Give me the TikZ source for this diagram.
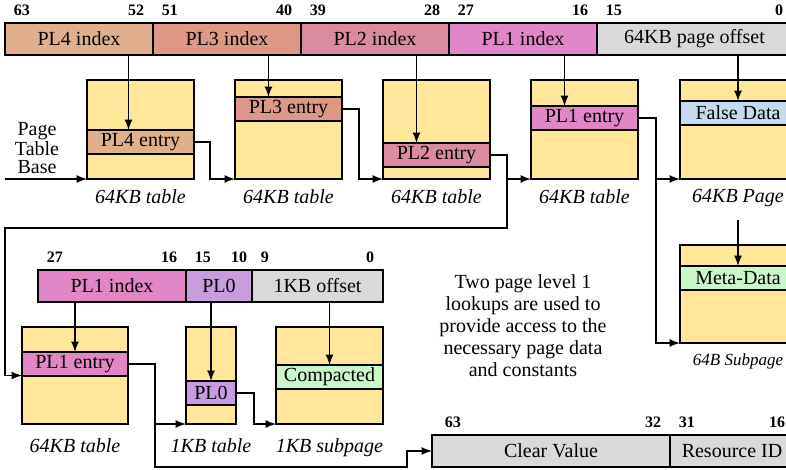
\documentclass[tikz,border=0pt]{standalone}
\usepackage{fontspec}
\setmainfont{Liberation Serif}
\usetikzlibrary{arrows,positioning}

\definecolor{pl4col}{HTML}{E0B08C}
\definecolor{pl3col}{HTML}{DF9786}
\definecolor{pl2col}{HTML}{DB8BA0}
\definecolor{pl1col}{HTML}{E286C8}
\definecolor{pl0col}{HTML}{C99CE0}
\definecolor{offcol}{HTML}{D9D9D9}
\definecolor{tabcol}{HTML}{FFE699}
\definecolor{falsecol}{HTML}{C6D9F1}
\definecolor{metacol}{HTML}{C8F7C8}

\begin{document}
\begin{tikzpicture}[x=0.5pt,y=-0.5pt,->,>=latex,thick]
  \tikzstyle{field}=[draw,minimum height=16pt,inner sep=0pt,outer sep=0pt]
  \tikzstyle{tablebox}=[draw,fill=tabcol,minimum width=53.5pt,minimum height=49.5pt,inner sep=0pt,outer sep=0pt]
  \tikzstyle{entry}=[draw,minimum width=53.5pt,minimum height=12pt,inner sep=0pt,outer sep=0pt]
  \tikzstyle{bits}=[font=\fontsize{8}{9}\selectfont\bfseries,inner sep=0pt]
  \tikzstyle{tabcap}=[font=\itshape]
\clip (0,0) rectangle (786,470);
% virtual address, top row
\node[field,fill=pl4col,minimum width=74pt] (pl4i) at (79,39) {PL4 index};
\node[field,fill=pl3col,minimum width=74pt] (pl3i) [right=0pt of pl4i] {PL3 index};
\node[field,fill=pl2col,minimum width=74pt] (pl2i) [right=0pt of pl3i] {PL2 index};
\node[field,fill=pl1col,minimum width=74pt] (pl1i) [right=0pt of pl2i] {PL1 index};
\node[field,fill=offcol,minimum width=97.5pt] (offs) [right=0pt of pl1i] {64KB page offset};
\node[bits,anchor=south west] (b63) at ([xshift=4pt,yshift=3.5pt]pl4i.north west) {63};
\node[bits,anchor=south east] (b52) at ([xshift=-4pt,yshift=3.5pt]pl4i.north east) {52};
\node[bits,anchor=south west] (b51) at ([xshift=4pt,yshift=3.5pt]pl3i.north west) {51};
\node[bits,anchor=south east] (b40) at ([xshift=-4pt,yshift=3.5pt]pl3i.north east) {40};
\node[bits,anchor=south west] (b39) at ([xshift=4pt,yshift=3.5pt]pl2i.north west) {39};
\node[bits,anchor=south east] (b28) at ([xshift=-4pt,yshift=3.5pt]pl2i.north east) {28};
\node[bits,anchor=south west] (b27) at ([xshift=4pt,yshift=3.5pt]pl1i.north west) {27};
\node[bits,anchor=south east] (b16) at ([xshift=-4pt,yshift=3.5pt]pl1i.north east) {16};
\node[bits,anchor=south west] (b15) at ([xshift=4pt,yshift=3.5pt]offs.north west) {15};
\node[bits,anchor=south east] (b0) at ([xshift=-4pt,yshift=3.5pt]offs.north east) {0};

% tables, top row
\node[tablebox] (t1) at (140.5,129.5) {};
\node[entry,fill=pl4col] (pl4e) at (140.5,142) {PL4 entry};
\node[tablebox] (t2) at (288.5,129.5) {};
\node[entry,fill=pl3col] (pl3e) at (288.5,109) {PL3 entry};
\node[tablebox] (t3) at (436.5,129.5) {};
\node[entry,fill=pl2col] (pl2e) at (436.5,155) {PL2 entry};
\node[tablebox] (t4) at (584.5,129.5) {};
\node[entry,fill=pl1col] (pl1e) at (584.5,118) {PL1 entry};
\node[tablebox,minimum width=58pt] (t5) at (738,129.5) {};
\node[entry,fill=falsecol,minimum width=58pt] (fdat) at (738,113) {False Data};
\node[tabcap] (c1) [below=1.5pt of t1] {64KB table};
\node[tabcap] (c2) [below=1.5pt of t2] {64KB table};
\node[tabcap] (c3) [below=1.5pt of t3] {64KB table};
\node[tabcap] (c4) [below=1.5pt of t4] {64KB table};
\node[tabcap] (c5) [below=1.5pt of t5] {64KB Page};

\node[tablebox,minimum width=58pt,minimum height=49pt] (t6) at (738,294) {};
\node[entry,fill=metacol,minimum width=58pt] (meta) at (738,278) {Meta-Data};
\node[tabcap,font=\fontsize{8.5}{10}\selectfont\itshape] (c6) [below=1.5pt of t6] {64B Subpage};

\node[align=center,font=\fontsize{10}{9}\selectfont] (ptbl) at (37,148) {Page\\Table\\Base};
\coordinate (ptb) at (5,179);
\coordinate (loop) at (5,228);
\coordinate (mdtop) at (738,220);

% second address, lower row
\node[field,fill=pl1col,minimum width=74pt] (pl1j) at (112,286) {PL1 index};
\node[field,fill=pl0col,minimum width=33pt] (pl0i) [right=0pt of pl1j] {PL0};
\node[field,fill=offcol,minimum width=65.5pt] (kbo) [right=0pt of pl0i] {1KB offset};
\node[bits,anchor=south west] (d27) at ([xshift=4pt,yshift=3.5pt]pl1j.north west) {27};
\node[bits,anchor=south east] (d16) at ([xshift=-4pt,yshift=3.5pt]pl1j.north east) {16};
\node[bits,anchor=south west] (d15) at ([xshift=4pt,yshift=3.5pt]pl0i.north west) {15};
\node[bits,anchor=south east] (d10) at ([xshift=-2pt,yshift=3.5pt]pl0i.north east) {10};
\node[bits,anchor=south west] (d9) at ([xshift=4pt,yshift=3.5pt]kbo.north west) {9};
\node[bits,anchor=south east] (d0) at ([xshift=-4pt,yshift=3.5pt]kbo.north east) {0};

\node[tablebox,minimum width=53pt,minimum height=48.5pt] (tA) at (75,375.5) {};
\node[entry,fill=pl1col,minimum width=53pt] (pl1f) at (75,364) {PL1 entry};
\node[tablebox,minimum width=25pt,minimum height=48.5pt] (tB) at (211,375.5) {};
\node[entry,fill=pl0col,minimum width=25pt] (pl0e) at (211,393) {PL0};
\node[tablebox,minimum height=48.5pt] (tC) at (329.5,375.5) {};
\node[entry,fill=metacol] (cpe) at (329.5,377) {Compacted};
\node[tabcap] (cA) [below=3.5pt of tA] {64KB table};
\node[tabcap] (cB) [below=3.5pt of tB] {1KB table};
\node[tabcap] (cC) [below=3.5pt of tC] {1KB subpage};

\node[align=center,font=\fontsize{10}{11}\selectfont] (note) at (523,326)
  {Two page level 1\\lookups are used to\\provide access to the\\necessary page data\\and constants};

% constants
\node[field,fill=offcol,minimum width=119pt] (cv) at (551,451) {Clear Value};
\node[field,fill=offcol,minimum width=62pt] (rid) [right=0pt of cv] {Resource ID};
\node[bits,anchor=south west] (e63) at ([xshift=6pt,yshift=3.5pt]cv.north west) {63};
\node[bits,anchor=south east] (e32) at ([xshift=-4pt,yshift=3.5pt]cv.north east) {32};
\node[bits,anchor=south west] (e31) at ([xshift=4pt,yshift=3.5pt]rid.north west) {31};
\node[bits,anchor=south east] (e16) at ([xshift=-4pt,yshift=3.5pt]rid.north east) {16};
\coordinate (jog) at (407,467);

% index arrows
\draw ([xshift=-6pt]pl4e.north |- pl4i.south) -- ([xshift=-6pt]pl4e.north);
\draw ([xshift=-10pt]pl3e.north |- pl3i.south) -- ([xshift=-10pt]pl3e.north);
\draw ([xshift=-10pt]pl2e.north |- pl2i.south) -- ([xshift=-10pt]pl2e.north);
\draw ([xshift=-10pt]pl1e.north |- pl1i.south) -- ([xshift=-10pt]pl1e.north);
\draw (fdat.north |- offs.south) -- (fdat.north);
\draw (mdtop) -- (meta.north);
\draw (pl1f.north |- pl1j.south) -- (pl1f.north);
\draw (pl0e.north |- pl0i.south) -- (pl0e.north);
\draw (cpe.north |- kbo.south) -- (cpe.north);

% walk
\draw (ptb) -- (t1.south west);
\draw (pl4e.east) -- ++(16,0) |- (t2.south west);
\draw (pl3e.east) -- ++(17,0) |- (t3.south west);
\draw (pl2e.east) -- ++(17,0) |- (t4.south west);
\draw (pl2e.east) -- ++(17,0) |- (loop) |- (tA.west);
\draw (pl1e.east) -- ++(18,0) |- (t5.south west);
\draw (pl1e.east) -- ++(18,0) |- (t6.south west);
\draw (pl1f.east) -- ++(27,0) |- (tB.south west);
\draw (pl1f.east) -- ++(27,0) |- (jog) |- (cv.west);
\draw (pl0e.east) -- ++(18,0) |- (tC.south west);
\end{tikzpicture}
\end{document}
